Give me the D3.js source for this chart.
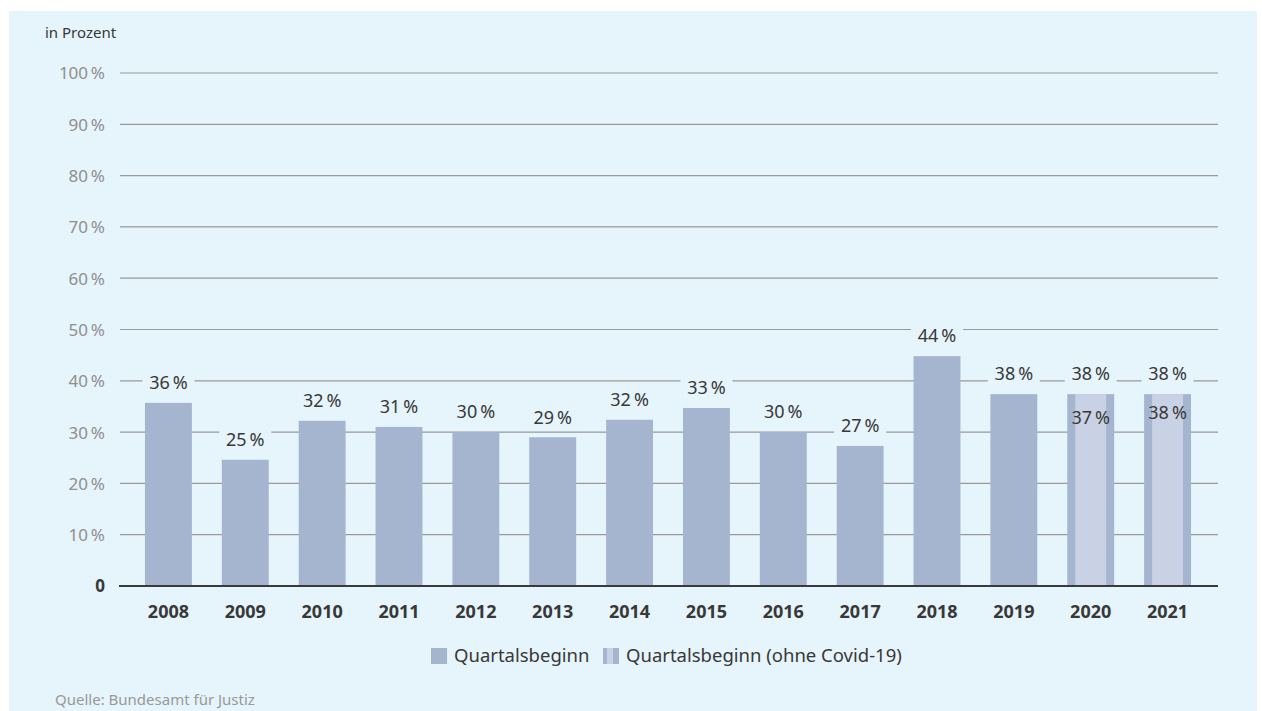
<!DOCTYPE html>
<html>
<head>
<meta charset="utf-8">
<script src="https://cdn.jsdelivr.net/npm/d3@7"></script>
<style>
  html, body { margin: 0; padding: 0; background: #ffffff; }
  svg { display: block; font-family: "Noto Sans", "Open Sans", sans-serif; }
</style>
</head>
<body>
<svg id="chart" width="1262" height="711"></svg>
<script>
// Anteil in Prozent, Quartalsbeginn, 2008-2021
const years = ["2008", "2009", "2010", "2011", "2012", "2013", "2014", "2015", "2016", "2017", "2018", "2019", "2020", "2021"];
const barValues = [35.7, 24.6, 32.2, 31.0, 30.0, 29.0, 32.4, 34.7, 30.0, 27.3, 44.8, 37.4, 37.4, 37.4];
const barLabels = ["36", "25", "32", "31", "30", "29", "32", "33", "30", "27", "44", "38", "38", "38"];
// ohne Covid-19 (nur 2020 und 2021)
const covidYears = ["2020", "2021"];
const covidValues = [37.4, 37.4];
const covidLabels = ["37", "38"];
const yTicks = [0, 10, 20, 30, 40, 50, 60, 70, 80, 90, 100];

const W = 1262, H = 711;
const colBar = "#a5b4cf";
const colLight = "#c9d2e4";
const colBg = "#e6f4fb";
const colText = "#383838";
const pct = v => v + "\u202F%";

const svg = d3.select("#chart");

svg.append("rect")
    .attr("x", 9).attr("y", 11)
    .attr("width", 1248).attr("height", H - 11)
    .attr("fill", colBg);

const y = d3.scaleLinear().domain([0, 100]).range([586, 73]);
const x = d3.scaleBand().domain(years).range([130, 1206]).paddingInner(0.39).paddingOuter(0.195);

const gridLeft = 120, gridRight = 1218;

// Gitterlinien
svg.append("g").selectAll("line")
    .data(yTicks.filter(d => d > 0))
    .enter().append("line")
    .attr("x1", gridLeft).attr("x2", gridRight)
    .attr("y1", d => y(d)).attr("y2", d => y(d))
    .attr("stroke", "#9a9a9a").attr("stroke-width", 1.2);

// y-Achsenbeschriftung
const yAxis = d3.axisLeft(y).tickValues(yTicks).tickSize(0).tickPadding(0)
    .tickFormat(d => d === 0 ? "0" : pct(d));
svg.append("g")
    .attr("transform", "translate(105,0)")
    .call(yAxis)
    .call(g => g.select(".domain").remove())
    .call(g => g.selectAll("text")
        .attr("font-family", "'Noto Sans', sans-serif")
        .attr("font-size", 17)
        .attr("dy", "0.35em")
        .attr("fill", d => d === 0 ? colText : "#8f8f8f")
        .attr("font-weight", d => d === 0 ? "bold" : "normal"));

svg.append("text")
    .attr("x", 45).attr("y", 38)
    .attr("font-size", 15).attr("fill", colText)
    .text("in Prozent");

// Balken
const bw = x.bandwidth();
svg.append("g").selectAll("rect")
    .data(years)
    .enter().append("rect")
    .attr("x", d => x(d))
    .attr("y", (d, i) => y(barValues[i]))
    .attr("width", bw)
    .attr("height", (d, i) => y(0) - y(barValues[i]))
    .attr("fill", colBar);

const stripe = bw * 0.17;
svg.append("g").selectAll("rect")
    .data(covidYears)
    .enter().append("rect")
    .attr("x", d => x(d) + stripe)
    .attr("y", (d, i) => y(covidValues[i]))
    .attr("width", bw - 2 * stripe)
    .attr("height", (d, i) => y(0) - y(covidValues[i]))
    .attr("fill", colLight);

// Werte über den Balken (mit Hintergrund, der die Gitterlinie verdeckt)
const lab = svg.append("g").selectAll("g")
    .data(years)
    .enter().append("g")
    .attr("transform", (d, i) => "translate(" + (x(d) + bw / 2) + "," + (y(barValues[i]) - 20) + ")");
lab.append("rect")
    .attr("x", -26).attr("y", -9).attr("width", 52).attr("height", 18)
    .attr("fill", colBg);
lab.append("text")
    .attr("text-anchor", "middle").attr("dy", "0.35em")
    .attr("font-size", 18).attr("fill", colText)
    .text((d, i) => pct(barLabels[i]));

svg.append("g").selectAll("text")
    .data(covidYears)
    .enter().append("text")
    .attr("x", d => x(d) + bw / 2)
    .attr("y", (d, i) => y(covidValues[i]) + (i === 0 ? 24 : 19))
    .attr("text-anchor", "middle").attr("dy", "0.35em")
    .attr("font-size", 18).attr("fill", colText)
    .text((d, i) => pct(covidLabels[i]));

// x-Achse
svg.append("line")
    .attr("x1", gridLeft - 1).attr("x2", gridRight)
    .attr("y1", y(0)).attr("y2", y(0))
    .attr("stroke", "#3a3a3a").attr("stroke-width", 2.2);

const xAxis = d3.axisBottom(x).tickSize(0).tickPadding(0);
svg.append("g")
    .attr("transform", "translate(0,612)")
    .call(xAxis)
    .call(g => g.select(".domain").remove())
    .call(g => g.selectAll("text")
        .attr("font-family", "'Noto Sans', sans-serif")
        .attr("font-size", 18).attr("font-weight", "bold")
        .attr("dy", "0.35em").attr("fill", colText));

// Legende
const leg = svg.append("g").attr("transform", "translate(0,656)");
leg.append("rect").attr("x", 431).attr("y", -8).attr("width", 16).attr("height", 16).attr("fill", colBar);
leg.append("text").attr("x", 454).attr("dy", "0.35em").attr("font-size", 18.5).attr("fill", colText).text("Quartalsbeginn");
leg.append("rect").attr("x", 603).attr("y", -8).attr("width", 16).attr("height", 16).attr("fill", colBar);
leg.append("rect").attr("x", 607).attr("y", -8).attr("width", 6).attr("height", 16).attr("fill", colLight);
leg.append("text").attr("x", 626).attr("dy", "0.35em").attr("font-size", 18.5).attr("fill", colText).text("Quartalsbeginn (ohne Covid-19)");

svg.append("text")
    .attr("x", 55).attr("y", 705)
    .attr("font-size", 15).attr("fill", "#999999")
    .text("Quelle: Bundesamt für Justiz");
</script>
</body>
</html>
